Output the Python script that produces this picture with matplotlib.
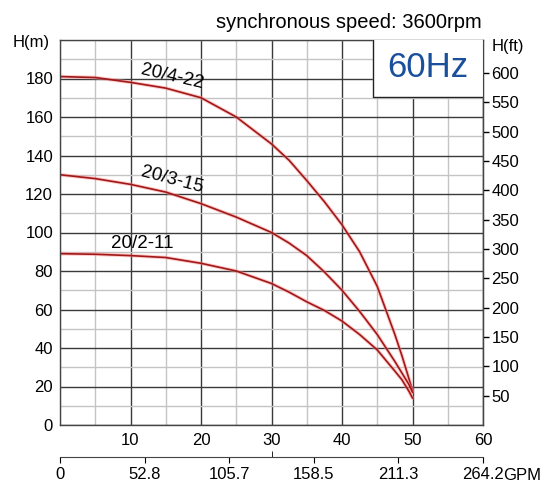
import matplotlib.pyplot as plt
from matplotlib.ticker import MultipleLocator, FixedLocator

plt.rcParams['font.family'] = ['Liberation Sans', 'DejaVu Sans']

# flow in m3/h
flow = [0, 5, 10, 15, 20, 25, 30, 32.5, 35, 37.5, 40, 42.5, 45, 47.5, 48.5, 49.5, 50]
# head in m
h_20_4_22 = [181, 180.5, 178, 175, 170, 160, 146, 137.5, 127, 116, 104, 90, 72, 47, 36, 24, 18]
h_20_3_15 = [130, 128, 125, 121, 115, 108, 100, 94.5, 88, 79.5, 70, 59, 47, 33, 27, 21, 17]
h_20_2_11 = [89, 88.7, 88, 87, 84, 80, 73.5, 69, 64, 59.5, 54, 47, 39, 28, 23.5, 17.5, 14]

curve_names = ["20/4-22", "20/3-15", "20/2-11"]
label_pos = [(15.9, 181, -13), (15.9, 127.5, -15), (11.6, 94.3, 0)]

gpm_ticks = [0, 52.8, 105.7, 158.5, 211.3, 264.2]
ft_ticks = [50, 100, 150, 200, 250, 300, 350, 400, 450, 500, 550, 600]

fig = plt.figure(figsize=(5.51, 4.83), dpi=100)
ax = fig.add_axes([60/551, 58/483, 423/551, 385/483])
ax.set_xlim(0, 60)
ax.set_ylim(0, 200)

ax.xaxis.set_major_locator(FixedLocator([10, 20, 30, 40, 50, 60]))
ax.xaxis.set_minor_locator(MultipleLocator(5))
ax.yaxis.set_major_locator(FixedLocator(list(range(0, 181, 20))))
ax.yaxis.set_minor_locator(MultipleLocator(10))
ax.grid(which='minor', color='#c4c4c4', lw=1.0)
ax.grid(which='major', color='#3a3a3a', lw=1.0)
ax.set_axisbelow(True)
ax.tick_params(which='both', length=0, labelsize=12, colors='black')
ax.tick_params(axis='x', pad=6)
ax.tick_params(axis='y', pad=5)
for s in ax.spines.values():
    s.set_color('#444444')
    s.set_linewidth(1.0)

for ys in (h_20_4_22, h_20_3_15, h_20_2_11):
    ax.plot(flow, ys, color='#ff9090', lw=2.6, alpha=0.5, solid_capstyle='round')
    ax.plot(flow, ys, color='#a01818', lw=1.2)

for name, (lx, ly, rot) in zip(curve_names, label_pos):
    ax.text(lx, ly, name, fontsize=13.5, rotation=rot, ha='center', va='center',
            rotation_mode='anchor')

# 60Hz box
ax.fill_between([44.4, 60], 170.5, 200, color='white', zorder=3)
ax.plot([44.4, 44.4, 60], [200, 170.5, 170.5], color='#222222', lw=1.0, zorder=4)
ax.text(52.2, 185.5, "60Hz", fontsize=25, color='#1a4f9c', ha='center', va='center', zorder=5)

# right axis in feet
ax2 = ax.twinx()
ax2.set_ylim(0, 200 * 3.28084)
ax2.set_yticks(ft_ticks)
ax2.tick_params(length=4, width=1, labelsize=12, pad=2)
for s in ax2.spines.values():
    s.set_visible(False)
ax2.spines['right'].set_visible(True)
ax2.spines['right'].set_color('#444444')

fig.text(31/551, 1 - 42/483, "H(m)", fontsize=12, ha='center', va='center')
fig.text(508/551, 1 - 46/483, "H(ft)", fontsize=12, ha='center', va='center')
fig.text(349/551, 1 - 22/483, "synchronous speed: 3600rpm", fontsize=14.5,
         ha='center', va='center')

# GPM scale
ax3 = fig.add_axes([60/551, 26/483, 423/551, 0.001])
ax3.set_xlim(0, 264.2)
ax3.set_yticks([])
for k in ('left', 'right', 'top'):
    ax3.spines[k].set_visible(False)
ax3.spines['bottom'].set_color('#444444')
ax3.set_xticks(gpm_ticks)
ax3.set_xticklabels(["0", "52.8", "105.7", "158.5", "211.3", "264.2"])
ax3.xaxis.set_minor_locator(FixedLocator([132.1]))
ax3.tick_params(which='major', direction='out', length=4, labelsize=12, pad=3)
ax3.tick_params(which='minor', direction='in', length=4)
fig.text(522/551, 1 - 475/483, "GPM", fontsize=12, ha='center', va='center')

fig.savefig("out.png", dpi=100)
